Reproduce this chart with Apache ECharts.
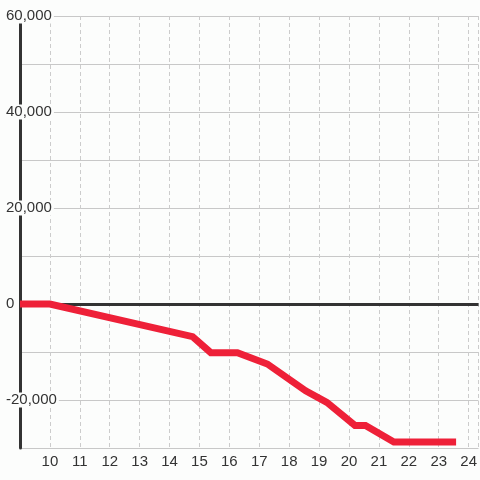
<!DOCTYPE html>
<html>
<head>
<meta charset="utf-8">
<script src="https://cdn.jsdelivr.net/npm/echarts@6/dist/echarts.min.js"></script>
<style>
  html, body { margin: 0; padding: 0; background: #fcfdfc; }
  #chart { width: 480px; height: 480px; }
</style>
</head>
<body>
<div id="chart"></div>
<script>
// hours on x, running balance on y
const hours = [9, 10, 14.77, 15.38, 16.27, 17.27, 18.55, 19.26, 20.2, 20.55, 21.5, 23.58];
const balance = [0, 0, -6800, -10150, -10150, -12500, -18080, -20500, -25300, -25300, -28750, -28750];
const yLabeled = [60000, 40000, 20000, 0, -20000];

const bg = '#fcfdfc';
const textFont = { color: '#333', fontSize: 15, fontFamily: 'Liberation Sans, Arial, sans-serif' };

const chart = echarts.init(document.getElementById('chart'));

const option = {
    backgroundColor: bg,
    animation: false,
    grid: { left: 20, right: 0, top: 16, bottom: 32 },
    xAxis: {
        type: 'value',
        min: 9,
        max: 24.33,
        interval: 1,
        axisLine: { show: false },
        axisTick: { show: false },
        axisLabel: Object.assign({
            margin: 6,
            showMinLabel: false,
            showMaxLabel: false,
            formatter: v => Number.isInteger(v) ? String(v) : ''
        }, textFont),
        splitLine: { show: true, lineStyle: { color: '#cccccc', type: [4, 3], width: 1 } }
    },
    yAxis: {
        type: 'value',
        min: -30000,
        max: 60000,
        interval: 10000,
        axisLine: { show: true, onZero: false, lineStyle: { color: '#333', width: 3 } },
        axisTick: { show: false },
        axisLabel: Object.assign({
            align: 'left',
            margin: 15,
            backgroundColor: bg,
            padding: [0, 2, 0, 1],
            formatter: v => yLabeled.includes(v) ? v.toLocaleString('en-US') : ''
        }, textFont),
        splitLine: { show: true, lineStyle: { color: '#c8c8c8', width: 1 } }
    },
    series: [
        {
            type: 'line',
            z: 10,
            data: hours.map((h, i) => [h, balance[i]]),
            showSymbol: false,
            lineStyle: { color: '#ee2038', width: 7, cap: 'butt', join: 'miter' },
            markLine: {
                silent: true,
                symbol: 'none',
                z: 1,
                label: { show: false },
                lineStyle: { color: '#333', width: 3, type: 'solid' },
                data: [{ yAxis: 0 }]
            }
        }
    ]
};

chart.setOption(option);
</script>
</body>
</html>
